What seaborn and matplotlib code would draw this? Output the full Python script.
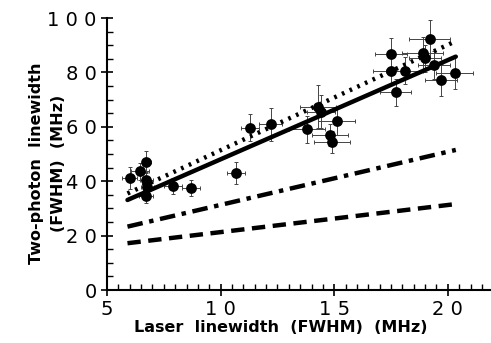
import matplotlib
matplotlib.use("Agg")
import matplotlib.pyplot as plt
import seaborn as sns
import numpy as np
import pandas as pd
from matplotlib.ticker import MultipleLocator

# data
laser_fwhm = [5.99, 6.45, 6.73, 6.73, 6.78, 6.71, 7.9, 8.7, 10.69, 11.3, 12.2, 13.8, 14.28, 14.42,
              15.1, 14.82, 14.9, 19.2, 17.5, 18.9, 19.0, 17.5, 18.1, 19.4, 17.7, 19.7, 20.3]
twophoton_fwhm = [41.1, 43.6, 47.2, 40.4, 38.0, 34.6, 38.2, 37.4, 43.1, 59.7, 60.9, 59.1, 67.4, 65.6,
                  62.1, 57.0, 54.5, 92.2, 86.6, 87.0, 85.2, 80.5, 80.6, 82.7, 72.7, 77.2, 79.9]
x_err = [0.35, 0.4, 0.2, 0.3, 0.3, 0.3, 0.4, 0.4, 0.4, 0.4, 0.5, 0.8, 0.8, 0.6,
         0.8, 0.8, 0.8, 0.9, 0.7, 0.9, 0.7, 0.8, 0.8, 0.7, 0.7, 0.7, 0.8]
y_err = [4, 3, 4, 3, 3, 2.5, 3, 3, 4, 5, 6, 5, 8, 6,
         5, 4, 4, 7, 6, 6, 5, 5, 5, 5, 5, 6, 6]

line_x = [5.9, 20.35]
solid_y = [33.1, 85.8]
dotted_y = [35.5, 91.5]
dashdot_y = [23.3, 51.5]
dashed_y = [17.2, 31.6]

xticks = [5, 10, 15, 20]
xtick_labels = ["5", "1 0", "1 5", "2 0"]
yticks = [0, 20, 40, 60, 80, 100]
ytick_labels = ["0", "2 0", "4 0", "6 0", "8 0", "1 0 0"]

sns.set_style("ticks")
plt.rcParams['font.family'] = ['DejaVu Sans']
plt.rcParams.update({"text.color": "black", "axes.labelcolor": "black",
                     "xtick.color": "black", "ytick.color": "black"})

fig = plt.figure(figsize=(4.91, 3.43), dpi=100)
ax = fig.add_axes([0.218, 0.1545, 0.782, 0.793])

pts = pd.DataFrame({"x": laser_fwhm, "y": twophoton_fwhm})
ax.errorbar(laser_fwhm, twophoton_fwhm, xerr=x_err, yerr=y_err, fmt="none",
            ecolor="#444444", elinewidth=0.7, capsize=1.5, capthick=0.7, zorder=2)
sns.scatterplot(data=pts, x="x", y="y", ax=ax, color="black", s=60,
                edgecolor="black", linewidth=0, zorder=3)

lines = pd.DataFrame({"x": line_x * 4,
                      "y": solid_y + dotted_y + dashdot_y + dashed_y,
                      "kind": ["solid"] * 2 + ["dotted"] * 2 + ["dashdot"] * 2 + ["dashed"] * 2})
styles = {"solid": "-", "dotted": (0, (0.6, 1.3)), "dashdot": (0, (3.5, 1.5, 1, 1.5)),
          "dashed": (0, (3, 1.7))}
for kind, g in lines.groupby("kind", sort=False):
    sns.lineplot(data=g, x="x", y="y", ax=ax, color="black", lw=3.2,
                 linestyle=styles[kind], zorder=4, legend=False)

ax.set_xlim(5, 21.9)
ax.set_ylim(0, 100)
ax.set_xticks(xticks)
ax.set_xticklabels(xtick_labels, fontsize=14, color="black")
ax.set_yticks(yticks)
ax.set_yticklabels(ytick_labels, fontsize=14, color="black")
ax.xaxis.set_minor_locator(MultipleLocator(0.5))
ax.yaxis.set_minor_locator(MultipleLocator(5))
ax.tick_params(which="major", direction="inout", length=9, width=1.2, color="black", pad=3)
ax.tick_params(which="minor", direction="in", length=4, width=1.0, color="black")
for s in ["top", "right"]:
    ax.spines[s].set_visible(False)
for s in ["left", "bottom"]:
    ax.spines[s].set_linewidth(1.5)
    ax.spines[s].set_color("black")

ax.set_xlabel("Laser  linewidth  (FWHM)  (MHz)", fontsize=11.5, fontweight="bold", color="black")
ax.xaxis.set_label_coords(0.453, -0.11)
ax.set_ylabel("Two-photon  linewidth\n(FWHM)  (MHz)", fontsize=11.5, fontweight="bold",
              linespacing=1.6, color="black")
ax.yaxis.set_label_coords(-0.107, 0.467)

fig.savefig("out.png", dpi=100)
